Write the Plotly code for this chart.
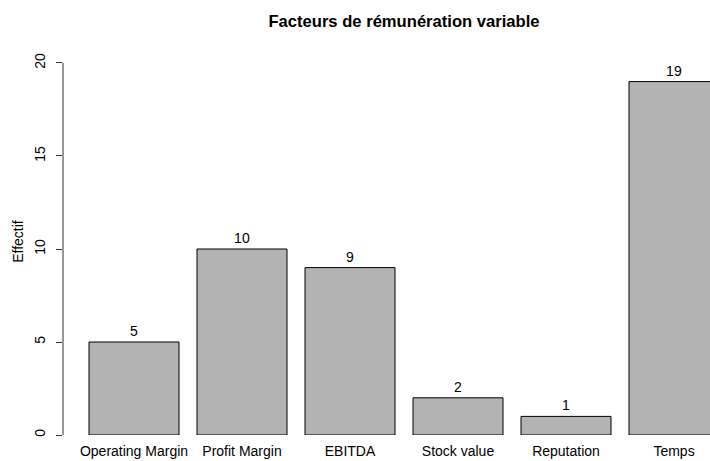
import plotly.graph_objects as go

categories = ["Operating Margin", "Profit Margin", "EBITDA", "Stock value", "Reputation", "Temps"]
values = [5, 10, 9, 2, 1, 19]
positions = [0.7, 1.9, 3.1, 4.3, 5.5, 6.7]
y_ticks = [0, 5, 10, 15, 20]

FONT = "Liberation Sans, Arial, Helvetica, sans-serif"

W, H = 710, 461

fig = go.Figure()
fig.add_trace(go.Bar(
    x=positions, y=values, width=1,
    marker=dict(color="#B3B3B3", line=dict(color="#000000", width=1)),
    text=[str(v) for v in values], textposition="outside",
    textfont=dict(size=14, color="#000000", family=FONT),
    cliponaxis=False,
))

# y axis line spanning tick range only (R style)
fig.add_shape(type="line", xref="paper", yref="y", x0=0, x1=0, y0=0, y1=20,
              line=dict(color="#333333", width=1))

fig.update_layout(
    width=W, height=H,
    margin=dict(l=63, r=0, t=48, b=26),
    plot_bgcolor="white", paper_bgcolor="white",
    showlegend=False,
    font=dict(family=FONT, size=14, color="#000000"),
    title=dict(text="<b>Facteurs de rémunération variable</b>", x=404 / W, xanchor="center",
               y=1 - 21 / H, yanchor="middle", font=dict(size=16.6, family=FONT)),
    xaxis=dict(range=[-8/90, 7.1], tickvals=positions, ticktext=categories,
               showgrid=False, zeroline=False, showline=False, ticks="",
               tickfont=dict(size=14), ticklabelstandoff=6),
    yaxis=dict(range=[0, 20.806], tickvals=y_ticks, showgrid=False, zeroline=False,
               showline=False, ticks="outside", ticklen=6, tickcolor="#333333",
               tickangle=-90, tickfont=dict(size=14), ticklabelstandoff=5,
               title=dict(text="Effectif", font=dict(size=14), standoff=5)),
)

fig.write_html(
    "out.html",
    config={"displayModeBar": False},
    post_script="document.body.style.margin='0';document.body.style.overflow='hidden';",
)
